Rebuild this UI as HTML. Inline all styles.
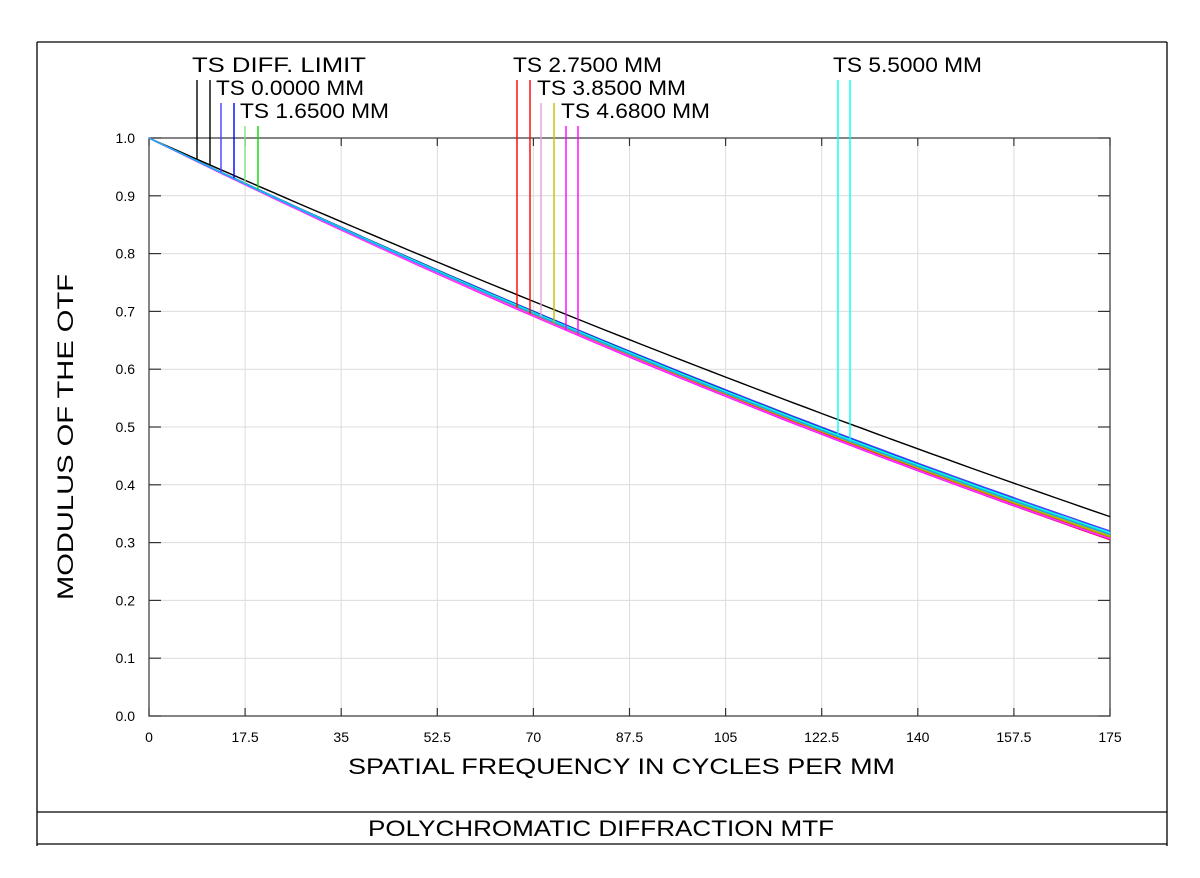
<!DOCTYPE html>
<html><head><meta charset="utf-8"><style>
html,body{margin:0;padding:0;background:#fff;}
svg{display:block;}
text{font-family:"Liberation Sans",sans-serif;fill:#000;}
</style></head><body>
<svg id="s" width="1200" height="878" xmlns="http://www.w3.org/2000/svg">
<rect x="0" y="0" width="1200" height="878" fill="#fff"/>
<g stroke="#000" stroke-width="1.3" fill="none">
<line x1="37" y1="42" x2="1167" y2="42"/>
<line x1="37" y1="42" x2="37" y2="846"/>
<line x1="1167" y1="42" x2="1167" y2="846"/>
<line x1="37" y1="812" x2="1167" y2="812"/>
<line x1="37" y1="844" x2="1167" y2="844"/>
</g>
<g id="grid" stroke="#dcdcdc" stroke-width="1"></g>
<g id="ax" stroke="#333" stroke-width="1.2" fill="none"></g>
<g id="curves" fill="none" stroke-width="1.4"></g>
<g id="leg" stroke-width="1.4"></g>
<g font-size="21">
<text x="192" y="72" textLength="174" lengthAdjust="spacingAndGlyphs">TS DIFF. LIMIT</text>
<text x="216" y="95" textLength="148" lengthAdjust="spacingAndGlyphs">TS 0.0000 MM</text>
<text x="240" y="118" textLength="149" lengthAdjust="spacingAndGlyphs">TS 1.6500 MM</text>
<text x="513" y="72" textLength="149" lengthAdjust="spacingAndGlyphs">TS 2.7500 MM</text>
<text x="537" y="95" textLength="149" lengthAdjust="spacingAndGlyphs">TS 3.8500 MM</text>
<text x="561" y="118" textLength="149" lengthAdjust="spacingAndGlyphs">TS 4.6800 MM</text>
<text x="833" y="72" textLength="149" lengthAdjust="spacingAndGlyphs">TS 5.5000 MM</text>
</g>
<g id="yl" font-size="14" text-anchor="end"></g>
<g id="xl" font-size="14" text-anchor="middle"></g>
<text x="348" y="774" font-size="22" textLength="547" lengthAdjust="spacingAndGlyphs">SPATIAL FREQUENCY IN CYCLES PER MM</text>
<text transform="translate(73,600) rotate(-90)" font-size="22" textLength="326" lengthAdjust="spacingAndGlyphs">MODULUS OF THE OTF</text>
<text x="368" y="836" font-size="22" textLength="466" lengthAdjust="spacingAndGlyphs">POLYCHROMATIC DIFFRACTION MTF</text>
</svg>
<script>
var NS="http://www.w3.org/2000/svg",X0=149,X1=1110,Y0=716,Y1=138;
function el(p,t,a){var e=document.createElementNS(NS,t);for(var k in a)e.setAttribute(k,a[k]);document.getElementById(p).appendChild(e);return e;}
function px(f){return X0+(X1-X0)*f/175;}function py(v){return Y0-(Y0-Y1)*v;}
var xt=[0,17.5,35,52.5,70,87.5,105,122.5,140,157.5,175];
xt.forEach(function(f){var x=px(f);if(f>0&&f<175)el("grid","line",{x1:x,y1:Y1,x2:x,y2:Y0});
el("ax","line",{x1:x,y1:Y0,x2:x,y2:Y0-8});el("ax","line",{x1:x,y1:Y1,x2:x,y2:Y1+8});
el("xl","text",{x:x,y:742}).textContent=(f==0?"0":String(f));});
for(var i=0;i<=10;i++){var v=i/10,y=py(v);if(i>0&&i<10)el("grid","line",{x1:X0,y1:y,x2:X1,y2:y});
el("ax","line",{x1:X0,y1:y,x2:X0+12,y2:y});el("ax","line",{x1:X1,y1:y,x2:X1-12,y2:y});
el("yl","text",{x:135,y:y+5}).textContent=v.toFixed(1);}
el("ax","rect",{x:X0,y:Y1,width:X1-X0,height:Y0-Y1});
function mk(a,b){return function(f){var t=f/175;return 1-a*t-b*t*t;};}
var series=[
["#000",mk(0.741,-0.086)],
["#4040ff",mk(0.795,-0.115)],["#0000ff",mk(0.797,-0.114)],
["#00dd00",mk(0.800,-0.115)],["#30c030",mk(0.800,-0.117)],
["#ff0000",mk(0.812,-0.120)],["#e00000",mk(0.815,-0.12)],
["#c0c000",mk(0.806,-0.118)],["#b0b000",mk(0.809,-0.119)],
["#ff00ff",mk(0.822,-0.128)],["#ff40ff",mk(0.818,-0.125)],
["#00ffff",mk(0.803,-0.120)],["#20a0ff",mk(0.808,-0.122)]];
series.forEach(function(s){var p=[];for(var f=0;f<=175;f+=2.5)p.push(px(f).toFixed(1)+","+py(s[1](f)).toFixed(1));
el("curves","polyline",{points:p.join(" "),stroke:s[0]});});
var leg=[[197,80,"#000",0],[210,80,"#000",0],[221,103,"#4040ff",1],[234,103,"#0000ff",2],
[245,126,"#80e080",3],[258,126,"#00dd00",4],[517,80,"#ff0000",5],[530,80,"#ff0000",6],
[541,103,"#e0a0e0",7],[554,103,"#c0c000",8],[566,126,"#ff00ff",9],[578,126,"#ff00ff",10],
[838,80,"#00ffff",11],[850,80,"#00ffff",12]];
leg.forEach(function(l){var f=(l[0]-X0)/(X1-X0)*175;var y=py(series[l[3]][1](f));
el("leg","line",{x1:l[0],y1:l[1],x2:l[0],y2:y,stroke:l[2]});});
</script>
</body></html>
